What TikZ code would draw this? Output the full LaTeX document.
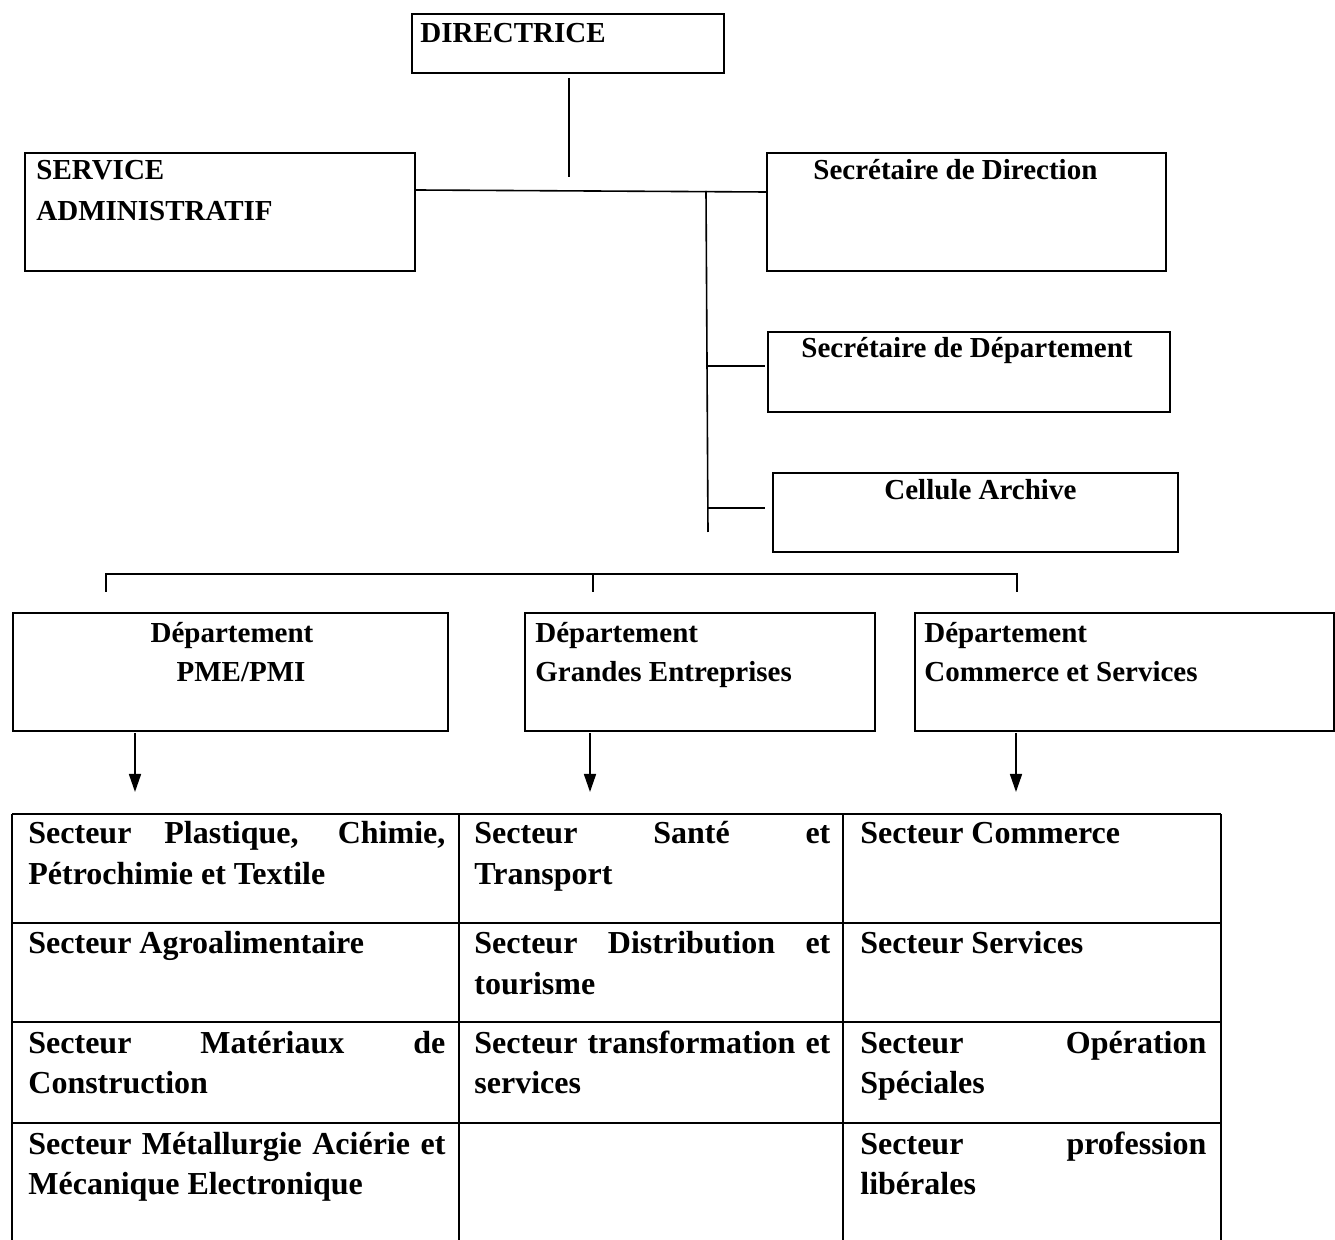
\documentclass[tikz,border=0pt]{standalone}
\usepackage{fontspec}
\setmainfont{Liberation Serif}
\usetikzlibrary{arrows.meta}
\newcommand\hdrfont{\fontsize{14.5}{17}\selectfont\bfseries}
\newcommand\tblfont{\fontsize{16}{20.5}\selectfont\bfseries\hyphenpenalty=10000}
\newcommand\cellfix{\spaceskip=0pt\xspaceskip=0pt\relax}
\newcommand\jline[2]{\hbox to #1{\spaceskip=0pt\xspaceskip=0pt\relax #2}}
\tikzset{
  box/.style={draw, line width=1.1pt, inner sep=0pt, anchor=north west},
  lbl/.style={inner sep=0pt, anchor=base west, font=\hdrfont},
  clbl/.style={inner sep=0pt, anchor=base, font=\hdrfont},
  conn/.style={line width=0.8pt},
  arr/.style={line width=0.8pt, -{Triangle[length=9pt,width=6pt]}},
  grid/.style={line width=1.1pt},
  cellA/.style={inner sep=0pt, anchor=base west, font=\tblfont, align=left, text width=208.5pt},
  cellB/.style={inner sep=0pt, anchor=base west, font=\tblfont, align=left, text width=178pt},
  cellC/.style={inner sep=0pt, anchor=base west, font=\tblfont, align=left, text width=173pt}
}
\begin{document}
\begin{tikzpicture}[x=0.5pt,y=-0.5pt]
\useasboundingbox (0,0) rectangle (1335,1240);
% boxes
\node[box, minimum width=156pt, minimum height=29.5pt] (dir) at (411,13) {};
\node[box, minimum width=195pt, minimum height=59pt] (svc) at (24,152) {};
\node[box, minimum width=199.5pt, minimum height=59pt] (sdir) at (766,152) {};
\node[box, minimum width=201pt, minimum height=40pt] (sdep) at (767,331) {};
\node[box, minimum width=202.5pt, minimum height=39.5pt] (arch) at (772,472) {};
\node[box, minimum width=217.5pt, minimum height=59pt] (d1) at (12,612) {};
\node[box, minimum width=175pt, minimum height=59pt] (d2) at (524,612) {};
\node[box, minimum width=209.5pt, minimum height=59pt] (d3) at (914,612) {};
% labels
\node[lbl] (tdir) at (420,43) {DIRECTRICE};
\node[lbl] (tsvc1) at (36,180) {SERVICE};
\node[lbl] (tsvc2) at (36,221) {ADMINISTRATIF};
\node[lbl] (tsdir) at (813,180) {Secrétaire de Direction};
\node[lbl] (tsdep) at (801,358) {Secrétaire de Département};
\node[lbl] (tarch) at (884,500) {Cellule Archive};
\node[clbl] (td1a) at (232,643) {Département};
\node[clbl] (td1b) at (241,682) {PME/PMI};
\node[lbl] (td2a) at (535,643) {Département};
\node[lbl] (td2b) at (535,682) {Grandes Entreprises};
\node[lbl] (td3a) at (924,643) {Département};
\node[lbl] (td3b) at (924,682) {Commerce et Services};
% connectors
\coordinate (dA) at (569,78);
\coordinate (dB) at (569,177);
\draw[conn] (dA) -- (dB);
\coordinate (hL) at (svc.east |- 0,190);
\coordinate (hR) at (sdir.west |- 0,192);
\draw[conn] (hL) -- (hR);
\coordinate (tT) at (706,191);
\coordinate (tB) at (708,532);
\draw[conn] (tT) -- (tB);
\coordinate (b1) at (707,366);
\coordinate (b1e) at (765,366);
\draw[conn] (b1) -- (b1e);
\coordinate (b2) at (708,508);
\coordinate (b2e) at (765,508);
\draw[conn] (b2) -- (b2e);
% department bracket
\coordinate (k1) at (106,592);
\coordinate (k2) at (593,592);
\coordinate (k3) at (1017,592);
\draw[conn] (k1) -- (106,574) -- (1017,574) -- (k3);
\draw[conn] (593,574) -- (k2);
% arrows
\coordinate (a1s) at (135,733); \coordinate (a1e) at (135,792);
\coordinate (a2s) at (590,733); \coordinate (a2e) at (590,792);
\coordinate (a3s) at (1016,733); \coordinate (a3e) at (1016,792);
\draw[arr] (a1s) -- (a1e);
\draw[arr] (a2s) -- (a2e);
\draw[arr] (a3s) -- (a3e);
% table
\draw[grid] (12,814) -- (1221,814);
\draw[grid] (12,923) -- (1221,923);
\draw[grid] (12,1022) -- (1221,1022);
\draw[grid] (12,1123) -- (1221,1123);
\draw[grid] (12,814) -- (12,1240);
\draw[grid] (459,814) -- (459,1240);
\draw[grid] (843,814) -- (843,1240);
\draw[grid] (1221,814) -- (1221,1240);
% cells
\node[cellA] (c11) at (28,844) {\cellfix\jline{208.5pt}{Secteur Plastique, Chimie,}\\\cellfix Pétrochimie et Textile};
\node[cellA] (c21) at (28,954) {\cellfix Secteur Agroalimentaire};
\node[cellA] (c31) at (28,1053) {\cellfix\jline{208.5pt}{Secteur Matériaux de}\\\cellfix Construction};
\node[cellA] (c41) at (28,1154) {\cellfix\jline{208.5pt}{Secteur Métallurgie Aciérie et}\\\cellfix Mécanique Electronique};
\node[cellB] (c12) at (474,844) {\cellfix\jline{178pt}{Secteur Santé et}\\\cellfix Transport};
\node[cellB] (c22) at (474,954) {\cellfix\jline{178pt}{Secteur Distribution et}\\\cellfix tourisme};
\node[cellB] (c32) at (474,1053) {\cellfix\jline{178pt}{Secteur transformation et}\\\cellfix services};
\node[cellC] (c13) at (860,844) {\cellfix Secteur Commerce};
\node[cellC] (c23) at (860,954) {\cellfix Secteur Services};
\node[cellC] (c33) at (860,1053) {\cellfix\jline{173pt}{Secteur Opération}\\\cellfix Spéciales};
\node[cellC] (c43) at (860,1154) {\cellfix\jline{173pt}{Secteur profession}\\\cellfix libérales};
\end{tikzpicture}
\end{document}
